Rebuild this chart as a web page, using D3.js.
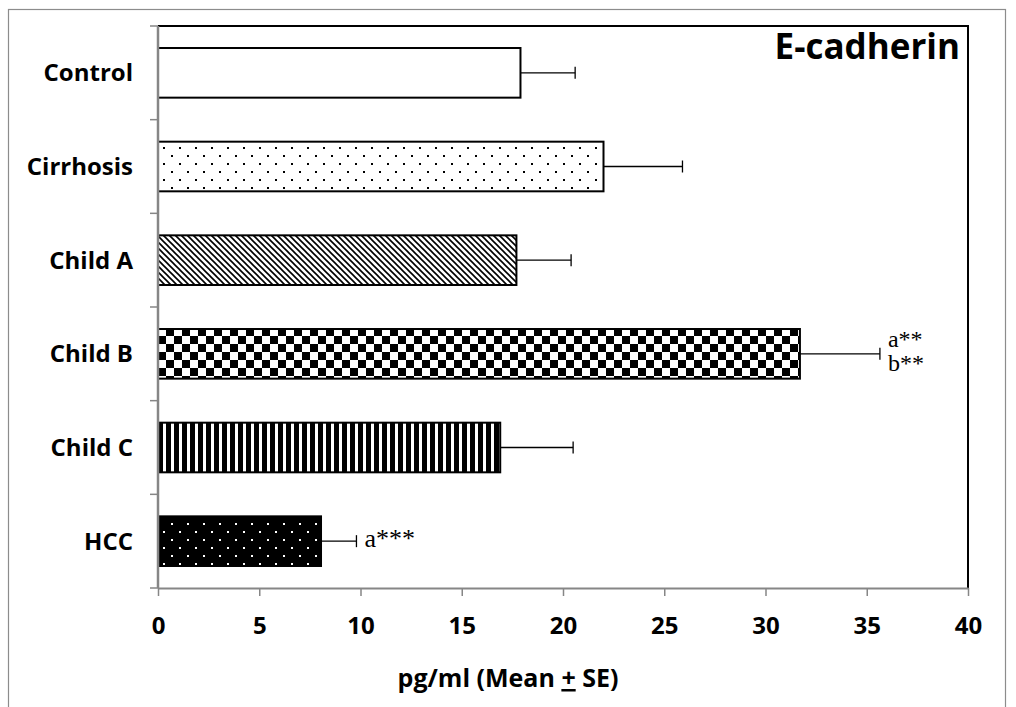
<!DOCTYPE html>
<html><head><meta charset="utf-8">
<script src="https://cdn.jsdelivr.net/npm/d3@7"></script>
<style>body{margin:0;background:#fff}</style>
</head><body>
<svg id="c" width="1016" height="707"></svg>
<script>
const categories = ["Control","Cirrhosis","Child A","Child B","Child C","HCC"];
const means = [17.9, 22.0, 17.7, 31.7, 16.9, 8.05];
const errors = [2.7, 3.9, 2.7, 3.95, 3.6, 1.75];
const patterns = ["white","dots","diag","checker","vstripes","blackdots"];
const annotations = [[],[],[],["a**","b**"],[],["a***"]];
const xTicks = [0,5,10,15,20,25,30,35,40];
const title = "E-cadherin";

const FONT = "'Open Sans', Lato, sans-serif";
const svg = d3.select("#c");
const L = 158, R = 968, T = 26, B = 588;
const x = d3.scaleLinear().domain([0,40]).range([L,R]);
const y = d3.scaleBand().domain(categories).range([T,B]).paddingInner(0.47).paddingOuter(0.235);

const defs = svg.append("defs");
let p = defs.append("pattern").attr("id","dots").attr("patternUnits","userSpaceOnUse").attr("width",16).attr("height",16);
p.append("rect").attr("width",16).attr("height",16).attr("fill","#fff");
p.append("rect").attr("x",3).attr("y",3).attr("width",2).attr("height",2).attr("fill","#000");
p.append("rect").attr("x",11).attr("y",11).attr("width",2).attr("height",2).attr("fill","#000");
p = defs.append("pattern").attr("id","blackdots").attr("patternUnits","userSpaceOnUse").attr("width",16).attr("height",16);
p.append("rect").attr("width",16).attr("height",16).attr("fill","#000");
p.append("rect").attr("x",3).attr("y",3).attr("width",2).attr("height",2).attr("fill","#fff");
p.append("rect").attr("x",11).attr("y",11).attr("width",2).attr("height",2).attr("fill","#fff");
p = defs.append("pattern").attr("id","diag").attr("patternUnits","userSpaceOnUse").attr("width",6).attr("height",6);
p.append("rect").attr("width",6).attr("height",6).attr("fill","#fff");
p.append("path").attr("d","M-1,-1 L7,7 M5,-1 L7,1 M-1,5 L1,7").attr("stroke","#000").attr("stroke-width",1.6);
p = defs.append("pattern").attr("id","checker").attr("patternUnits","userSpaceOnUse").attr("width",16).attr("height",16).attr("x",L).attr("y",0);
p.append("rect").attr("width",16).attr("height",16).attr("fill","#fff");
p.append("rect").attr("width",8).attr("height",8).attr("fill","#000");
p.append("rect").attr("x",8).attr("y",8).attr("width",8).attr("height",8).attr("fill","#000");
p = defs.append("pattern").attr("id","vstripes").attr("patternUnits","userSpaceOnUse").attr("width",8).attr("height",8).attr("x",L);
p.append("rect").attr("width",8).attr("height",8).attr("fill","#fff");
p.append("rect").attr("x",0).attr("width",5).attr("height",8).attr("fill","#000");

svg.append("rect").attr("x",8.5).attr("y",9.5).attr("width",997).attr("height",720)
  .attr("fill","none").attr("stroke","#8c8c8c").attr("stroke-width",1.2);

svg.append("path").attr("d",`M${L},${T} L${R},${T} L${R},${B}`).attr("fill","none").attr("stroke","#000").attr("stroke-width",2);

const fillOf = d => d === "white" ? "#fff" : `url(#${d})`;
svg.selectAll("rect.bar").data(categories).enter().append("rect")
  .attr("class","bar")
  .attr("x",x(0)).attr("y",d=>y(d))
  .attr("width",(d,i)=>x(means[i])-x(0)).attr("height",y.bandwidth())
  .attr("fill",(d,i)=>fillOf(patterns[i]))
  .attr("stroke","#000").attr("stroke-width",2);

const eg = svg.append("g").attr("stroke","#000").attr("stroke-width",1.3);
categories.forEach((c,i)=>{
  const cy = y(c)+y.bandwidth()/2;
  eg.append("line").attr("x1",x(means[i])).attr("x2",x(means[i]+errors[i])).attr("y1",cy).attr("y2",cy);
  eg.append("line").attr("x1",x(means[i]+errors[i])).attr("x2",x(means[i]+errors[i])).attr("y1",cy-6).attr("y2",cy+6);
});

categories.forEach((c,i)=>{
  const a = annotations[i];
  if(!a.length) return;
  const cy = y(c)+y.bandwidth()/2;
  const tx = x(means[i]+errors[i]) + 8;
  a.forEach((t,j)=>{
    const by = a.length===1 ? cy+6 : cy - 7 + j*24;
    svg.append("text").attr("x",tx).attr("y",by).text(t)
      .attr("font-family","'Liberation Serif','Times New Roman',serif").attr("font-size",a.length===1?26:24).attr("fill","#000");
  });
});

const xAxis = svg.append("g").attr("transform",`translate(0,${B})`)
  .call(d3.axisBottom(x).tickValues(xTicks).tickSize(8).tickSizeOuter(0).tickPadding(21));
xAxis.select(".domain").attr("stroke","#868686").attr("stroke-width",2);
xAxis.selectAll(".tick line").attr("stroke","#868686").attr("stroke-width",1.5);
xAxis.selectAll(".tick text").attr("font-family",FONT).attr("font-weight","bold").attr("font-size",24).attr("fill","#000");

const boundaries = d3.range(categories.length+1).map(i=>T + i*(B-T)/categories.length);
const yg = svg.append("g");
yg.append("line").attr("x1",L).attr("x2",L).attr("y1",T).attr("y2",B).attr("stroke","#868686").attr("stroke-width",2.5);
yg.selectAll("line.t").data(boundaries).enter().append("line").attr("class","t")
  .attr("x1",L-8).attr("x2",L).attr("y1",d=>d).attr("y2",d=>d).attr("stroke","#868686").attr("stroke-width",1.5);
yg.selectAll("text").data(categories).enter().append("text")
  .attr("x",133).attr("y",d=>y(d)+y.bandwidth()/2).attr("dy","0.35em")
  .attr("text-anchor","end").attr("font-family",FONT)
  .attr("font-weight","bold").attr("font-size",24).attr("fill","#000").text(d=>d);

const xt = svg.append("text").attr("x",508).attr("y",687).attr("text-anchor","middle")
  .attr("font-family",FONT).attr("font-weight","bold").attr("font-size",25).attr("fill","#000");
xt.append("tspan").text("pg/ml (Mean ");
xt.append("tspan").attr("text-decoration","underline").text("+");
xt.append("tspan").text(" SE)");

svg.append("text").attr("x",960).attr("y",59).attr("text-anchor","end")
  .attr("font-family",FONT).attr("font-weight","bold").attr("font-size",35).attr("fill","#000").text(title);
</script>
</body></html>
